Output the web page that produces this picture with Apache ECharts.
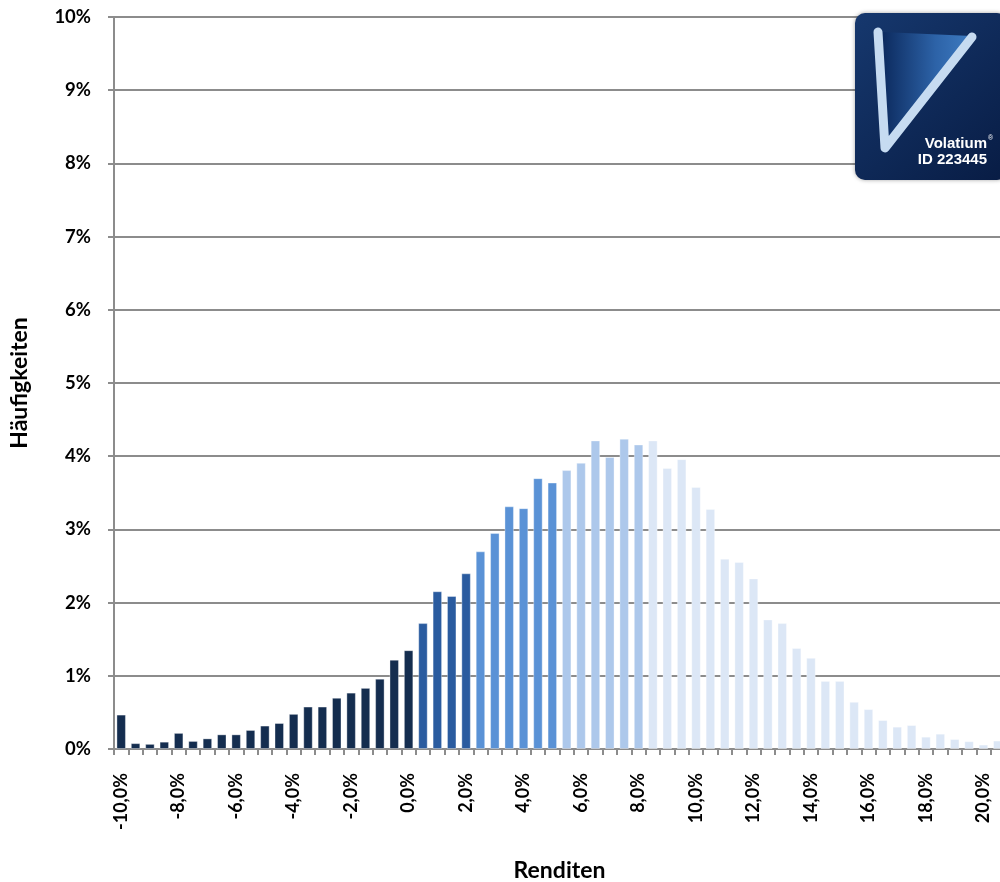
<!DOCTYPE html>
<html>
<head>
<meta charset="utf-8">
<script src="https://cdn.jsdelivr.net/npm/echarts@6/dist/echarts.min.js"></script>
<style>
html,body{margin:0;padding:0;background:#fff;}
#chart{width:1000px;height:882px;}
</style>
</head>
<body>
<div id="chart"></div>
<script>
// Return buckets (x axis categories)
const categories = [
  "-10,0%","-9,5%","-9,0%","-8,5%","-8,0%","-7,5%","-7,0%","-6,5%","-6,0%","-5,5%",
  "-5,0%","-4,5%","-4,0%","-3,5%","-3,0%","-2,5%","-2,0%","-1,5%","-1,0%","-0,5%",
  "0,0%","0,5%","1,0%","1,5%","2,0%","2,5%","3,0%","3,5%","4,0%","4,5%",
  "5,0%","5,5%","6,0%","6,5%","7,0%","7,5%","8,0%","8,5%","9,0%","9,5%",
  "10,0%","10,5%","11,0%","11,5%","12,0%","12,5%","13,0%","13,5%","14,0%","14,5%",
  "15,0%","15,5%","16,0%","16,5%","17,0%","17,5%","18,0%","18,5%","19,0%","19,5%",
  "20,0%","20,5%"
];
// Frequencies in percent
const frequencies = [
  0.47,0.08,0.07,0.10,0.22,0.11,0.145,0.20,0.20,0.26,
  0.32,0.355,0.48,0.58,0.58,0.70,0.77,0.835,0.96,1.22,
  1.35,1.72,2.155,2.09,2.40,2.70,2.95,3.315,3.29,3.70,
  3.64,3.81,3.91,4.215,3.99,4.24,4.16,4.215,3.84,3.96,
  3.58,3.28,2.60,2.555,2.33,1.77,1.72,1.38,1.245,0.93,
  0.93,0.645,0.545,0.395,0.305,0.327,0.168,0.209,0.136,0.106,
  0.06,0.115
];
// Colour groups: last category index of each group and its colour
const groupEnds = [20, 24, 30, 36, 61];
const groupColors = ["#142D4F", "#2A5B9F", "#5A92D6", "#ADC8EB", "#DCE7F6"];
const yTicks = ["0%","1%","2%","3%","4%","5%","6%","7%","8%","9%","10%"];

function colorFor(i){
  for (let g = 0; g < groupEnds.length; g++) if (i <= groupEnds[g]) return groupColors[g];
  return groupColors[groupColors.length-1];
}
const barData = frequencies.map((v,i)=>({value:v, itemStyle:{color:colorFor(i)}}));

const FONT = 'Lato, "Open Sans", sans-serif';
const chart = echarts.init(document.getElementById('chart'), null, {renderer:'canvas'});
chart.setOption({
  animation:false,
  backgroundColor:'#ffffff',
  grid:{left:114, top:17, width:891, height:732, containLabel:false, outerBoundsMode:'none'},
  xAxis:{
    type:'category',
    data:categories,
    boundaryGap:true,
    name:'Renditen',
    nameLocation:'middle',
    nameGap:110,
    nameTextStyle:{fontFamily:FONT, fontWeight:'bold', fontSize:23, color:'#000'},
    axisLine:{lineStyle:{color:'#8c8c8c', width:2}},
    axisTick:{show:true, interval:0, length:6, lineStyle:{color:'#8c8c8c', width:2}},
    axisLabel:{interval:3, rotate:90, margin:24, fontFamily:FONT, fontWeight:'bold', fontSize:18, color:'#000'},
    splitLine:{show:false}
  },
  yAxis:{
    type:'value',
    min:0, max:10, interval:1,
    name:'Häufigkeiten',
    nameLocation:'middle',
    nameGap:83,
    nameRotate:90,
    nameTextStyle:{fontFamily:FONT, fontWeight:'bold', fontSize:23, color:'#000'},
    axisLine:{show:true, lineStyle:{color:'#8c8c8c', width:2}},
    axisTick:{show:true, length:6, lineStyle:{color:'#8c8c8c', width:2}},
    axisLabel:{margin:23, fontFamily:FONT, fontWeight:'bold', fontSize:18.5, color:'#000',
      formatter:(v)=>yTicks[Math.round(v)]},
    splitLine:{show:true, lineStyle:{color:'#8c8c8c', width:2}}
  },
  series:[{
    type:'bar',
    data:barData,
    barCategoryGap:'34%',
    itemStyle:{borderColor:'rgba(255,255,255,0.35)', borderWidth:1}
  }],
  graphic:[
    {type:'rect', z:100, shape:{x:855, y:13, width:152, height:167, r:10},
     style:{fill:new echarts.graphic.LinearGradient(0,0,1,1,[{offset:0,color:'#16386E'},{offset:1,color:'#081C44'}]),
            shadowBlur:4, shadowColor:'rgba(0,0,0,0.35)'}},
    {type:'polygon', z:101, shape:{points:[[882,32],[972,36],[887,148]]},
     style:{fill:new echarts.graphic.LinearGradient(0,0,1,0,[{offset:0,color:'#0C2A5E'},{offset:0.6,color:'#2D63A8'},{offset:1,color:'#3E7CC2'}])}},
    {type:'polyline', z:102, shape:{points:[[878,32],[885,148],[972,37]]},
     style:{stroke:'#C6DBF1', lineWidth:9, lineCap:'round', lineJoin:'round', fill:null}},
    {type:'text', z:103, style:{x:987, y:144, text:'Volatium', fill:'#ffffff', font:'bold 15px "Liberation Sans", Arial, sans-serif', textAlign:'right', textVerticalAlign:'middle'}},
    {type:'text', z:103, style:{x:988, y:138, text:'®', fill:'#ffffff', font:'7px "Liberation Sans", Arial, sans-serif', textAlign:'left', textVerticalAlign:'middle'}},
    {type:'text', z:103, style:{x:987, y:160, text:'ID 223445', fill:'#ffffff', font:'bold 15px "Liberation Sans", Arial, sans-serif', textAlign:'right', textVerticalAlign:'middle'}}
  ]
});
</script>
</body>
</html>
